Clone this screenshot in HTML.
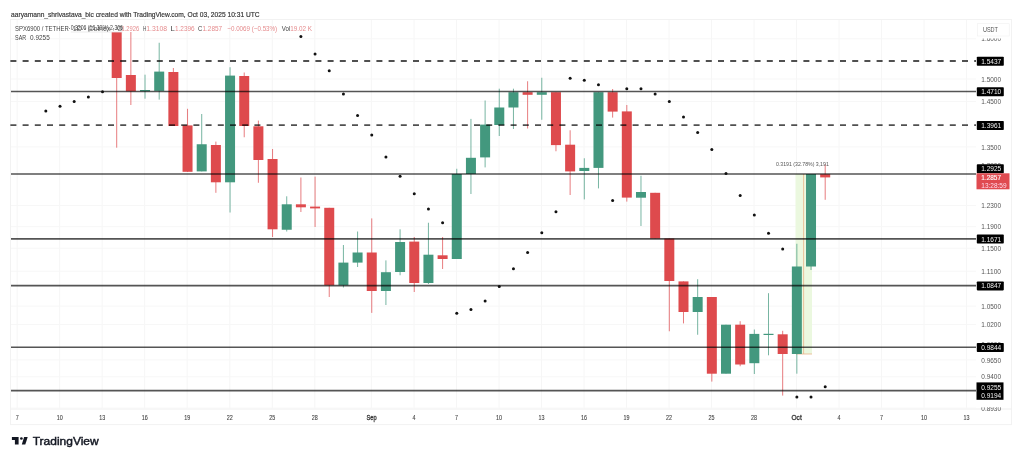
<!DOCTYPE html><html><head><meta charset="utf-8"><style>html,body{margin:0;padding:0;background:#fff;width:1024px;height:458px;overflow:hidden}svg{display:block;filter:blur(0.5px)}</style></head><body><svg width="1024" height="458" viewBox="0 0 1024 458">
<rect width="1024" height="458" fill="#ffffff"/>
<rect x="10.5" y="19.5" width="1001.0" height="405.1" fill="none" stroke="#f2f2f2" stroke-width="1"/>
<line x1="11" y1="409" x2="1011.5" y2="409" stroke="#efefef" stroke-width="1"/>
<line x1="17.2" y1="20" x2="17.2" y2="409" stroke="#f6f6f6" stroke-width="1"/>
<line x1="59.7" y1="20" x2="59.7" y2="409" stroke="#f6f6f6" stroke-width="1"/>
<line x1="102.2" y1="20" x2="102.2" y2="409" stroke="#f6f6f6" stroke-width="1"/>
<line x1="144.7" y1="20" x2="144.7" y2="409" stroke="#f6f6f6" stroke-width="1"/>
<line x1="187.2" y1="20" x2="187.2" y2="409" stroke="#f6f6f6" stroke-width="1"/>
<line x1="229.8" y1="20" x2="229.8" y2="409" stroke="#f6f6f6" stroke-width="1"/>
<line x1="272.3" y1="20" x2="272.3" y2="409" stroke="#f6f6f6" stroke-width="1"/>
<line x1="314.8" y1="20" x2="314.8" y2="409" stroke="#f6f6f6" stroke-width="1"/>
<line x1="371.4" y1="20" x2="371.4" y2="409" stroke="#f6f6f6" stroke-width="1"/>
<line x1="414.0" y1="20" x2="414.0" y2="409" stroke="#f6f6f6" stroke-width="1"/>
<line x1="456.5" y1="20" x2="456.5" y2="409" stroke="#f6f6f6" stroke-width="1"/>
<line x1="499.0" y1="20" x2="499.0" y2="409" stroke="#f6f6f6" stroke-width="1"/>
<line x1="541.5" y1="20" x2="541.5" y2="409" stroke="#f6f6f6" stroke-width="1"/>
<line x1="584.0" y1="20" x2="584.0" y2="409" stroke="#f6f6f6" stroke-width="1"/>
<line x1="626.5" y1="20" x2="626.5" y2="409" stroke="#f6f6f6" stroke-width="1"/>
<line x1="669.0" y1="20" x2="669.0" y2="409" stroke="#f6f6f6" stroke-width="1"/>
<line x1="711.5" y1="20" x2="711.5" y2="409" stroke="#f6f6f6" stroke-width="1"/>
<line x1="754.0" y1="20" x2="754.0" y2="409" stroke="#f6f6f6" stroke-width="1"/>
<line x1="796.6" y1="20" x2="796.6" y2="409" stroke="#f6f6f6" stroke-width="1"/>
<line x1="839.1" y1="20" x2="839.1" y2="409" stroke="#f6f6f6" stroke-width="1"/>
<line x1="881.6" y1="20" x2="881.6" y2="409" stroke="#f6f6f6" stroke-width="1"/>
<line x1="924.1" y1="20" x2="924.1" y2="409" stroke="#f6f6f6" stroke-width="1"/>
<line x1="966.6" y1="20" x2="966.6" y2="409" stroke="#f6f6f6" stroke-width="1"/>
<line x1="11" y1="38.8" x2="976" y2="38.8" stroke="#f7f7f7" stroke-width="1"/>
<line x1="11" y1="79.0" x2="976" y2="79.0" stroke="#f7f7f7" stroke-width="1"/>
<line x1="11" y1="101.4" x2="976" y2="101.4" stroke="#f7f7f7" stroke-width="1"/>
<line x1="11" y1="146.9" x2="976" y2="146.9" stroke="#f7f7f7" stroke-width="1"/>
<line x1="11" y1="205.6" x2="976" y2="205.6" stroke="#f7f7f7" stroke-width="1"/>
<line x1="11" y1="226.7" x2="976" y2="226.7" stroke="#f7f7f7" stroke-width="1"/>
<line x1="11" y1="248.2" x2="976" y2="248.2" stroke="#f7f7f7" stroke-width="1"/>
<line x1="11" y1="271.2" x2="976" y2="271.2" stroke="#f7f7f7" stroke-width="1"/>
<line x1="11" y1="306.1" x2="976" y2="306.1" stroke="#f7f7f7" stroke-width="1"/>
<line x1="11" y1="324.4" x2="976" y2="324.4" stroke="#f7f7f7" stroke-width="1"/>
<line x1="11" y1="359.9" x2="976" y2="359.9" stroke="#f7f7f7" stroke-width="1"/>
<line x1="11" y1="376.8" x2="976" y2="376.8" stroke="#f7f7f7" stroke-width="1"/>
<line x1="11" y1="408.1" x2="976" y2="408.1" stroke="#f7f7f7" stroke-width="1"/>
<rect x="795.5" y="174" width="16.5" height="180" fill="#ebf8df"/>
<line x1="803.6" y1="174" x2="803.6" y2="354" stroke="#e8b48a" stroke-width="0.8"/>
<line x1="796" y1="354" x2="812" y2="354" stroke="#e8b48a" stroke-width="0.8"/>
<line x1="116.69" y1="32" x2="116.69" y2="147.7" stroke="#de4a4d" stroke-width="1" stroke-opacity="0.72"/>
<rect x="111.69" y="32" width="10.0" height="46.00" fill="#de4a4d"/>
<line x1="130.86" y1="32" x2="130.86" y2="105" stroke="#de4a4d" stroke-width="1" stroke-opacity="0.72"/>
<rect x="125.86" y="75" width="10.0" height="16.30" fill="#de4a4d"/>
<line x1="145.03" y1="74.7" x2="145.03" y2="98.7" stroke="#43987e" stroke-width="1" stroke-opacity="0.72"/>
<rect x="140.03" y="90" width="10.0" height="1.20" fill="#43987e"/>
<line x1="159.20" y1="42.75" x2="159.20" y2="99.6" stroke="#43987e" stroke-width="1" stroke-opacity="0.72"/>
<rect x="154.20" y="71.6" width="10.0" height="19.30" fill="#43987e"/>
<line x1="173.37" y1="68" x2="173.37" y2="126" stroke="#de4a4d" stroke-width="1" stroke-opacity="0.72"/>
<rect x="168.37" y="72" width="10.0" height="54.00" fill="#de4a4d"/>
<line x1="187.54" y1="108.8" x2="187.54" y2="172" stroke="#de4a4d" stroke-width="1" stroke-opacity="0.72"/>
<rect x="182.54" y="125.4" width="10.0" height="46.40" fill="#de4a4d"/>
<line x1="201.71" y1="114" x2="201.71" y2="171.4" stroke="#43987e" stroke-width="1" stroke-opacity="0.72"/>
<rect x="196.71" y="144.25" width="10.0" height="27.15" fill="#43987e"/>
<line x1="215.88" y1="141.6" x2="215.88" y2="192.8" stroke="#de4a4d" stroke-width="1" stroke-opacity="0.72"/>
<rect x="210.88" y="145" width="10.0" height="37.30" fill="#de4a4d"/>
<line x1="230.05" y1="67.25" x2="230.05" y2="212.5" stroke="#43987e" stroke-width="1" stroke-opacity="0.72"/>
<rect x="225.05" y="75.6" width="10.0" height="106.70" fill="#43987e"/>
<line x1="244.22" y1="72.5" x2="244.22" y2="137.25" stroke="#de4a4d" stroke-width="1" stroke-opacity="0.72"/>
<rect x="239.22" y="76" width="10.0" height="50.00" fill="#de4a4d"/>
<line x1="258.39" y1="120.6" x2="258.39" y2="182.75" stroke="#de4a4d" stroke-width="1" stroke-opacity="0.72"/>
<rect x="253.39" y="126.3" width="10.0" height="33.70" fill="#de4a4d"/>
<line x1="272.56" y1="149" x2="272.56" y2="237" stroke="#de4a4d" stroke-width="1" stroke-opacity="0.72"/>
<rect x="267.56" y="159" width="10.0" height="70.30" fill="#de4a4d"/>
<line x1="286.73" y1="196.3" x2="286.73" y2="231.5" stroke="#43987e" stroke-width="1" stroke-opacity="0.72"/>
<rect x="281.73" y="204.3" width="10.0" height="25.45" fill="#43987e"/>
<line x1="300.90" y1="177.5" x2="300.90" y2="212" stroke="#de4a4d" stroke-width="1" stroke-opacity="0.72"/>
<rect x="295.90" y="204.3" width="10.0" height="3.00" fill="#de4a4d"/>
<line x1="315.07" y1="176.6" x2="315.07" y2="227" stroke="#de4a4d" stroke-width="1" stroke-opacity="0.72"/>
<rect x="310.07" y="206.6" width="10.0" height="1.80" fill="#de4a4d"/>
<line x1="329.24" y1="207.8" x2="329.24" y2="297" stroke="#de4a4d" stroke-width="1" stroke-opacity="0.72"/>
<rect x="324.24" y="207.8" width="10.0" height="77.50" fill="#de4a4d"/>
<line x1="343.41" y1="245" x2="343.41" y2="287.5" stroke="#43987e" stroke-width="1" stroke-opacity="0.72"/>
<rect x="338.41" y="262.6" width="10.0" height="22.70" fill="#43987e"/>
<line x1="357.58" y1="231.5" x2="357.58" y2="267" stroke="#43987e" stroke-width="1" stroke-opacity="0.72"/>
<rect x="352.58" y="252.5" width="10.0" height="10.10" fill="#43987e"/>
<line x1="371.75" y1="218.4" x2="371.75" y2="312.9" stroke="#de4a4d" stroke-width="1" stroke-opacity="0.72"/>
<rect x="366.75" y="252.5" width="10.0" height="38.50" fill="#de4a4d"/>
<line x1="385.92" y1="260.4" x2="385.92" y2="305" stroke="#43987e" stroke-width="1" stroke-opacity="0.72"/>
<rect x="380.92" y="272.2" width="10.0" height="18.80" fill="#43987e"/>
<line x1="400.09" y1="229.3" x2="400.09" y2="275.25" stroke="#43987e" stroke-width="1" stroke-opacity="0.72"/>
<rect x="395.09" y="242" width="10.0" height="30.00" fill="#43987e"/>
<line x1="414.26" y1="237" x2="414.26" y2="292" stroke="#de4a4d" stroke-width="1" stroke-opacity="0.72"/>
<rect x="409.26" y="241.6" width="10.0" height="41.40" fill="#de4a4d"/>
<line x1="428.43" y1="222.75" x2="428.43" y2="284" stroke="#43987e" stroke-width="1" stroke-opacity="0.72"/>
<rect x="423.43" y="254.7" width="10.0" height="28.30" fill="#43987e"/>
<line x1="442.60" y1="237" x2="442.60" y2="269" stroke="#de4a4d" stroke-width="1" stroke-opacity="0.72"/>
<rect x="437.60" y="255.3" width="10.0" height="3.70" fill="#de4a4d"/>
<line x1="456.77" y1="168.75" x2="456.77" y2="259" stroke="#43987e" stroke-width="1" stroke-opacity="0.72"/>
<rect x="451.77" y="174" width="10.0" height="85.00" fill="#43987e"/>
<line x1="470.94" y1="118.9" x2="470.94" y2="194" stroke="#43987e" stroke-width="1" stroke-opacity="0.72"/>
<rect x="465.94" y="157.8" width="10.0" height="16.20" fill="#43987e"/>
<line x1="485.11" y1="100.5" x2="485.11" y2="167.4" stroke="#43987e" stroke-width="1" stroke-opacity="0.72"/>
<rect x="480.11" y="124.6" width="10.0" height="32.80" fill="#43987e"/>
<line x1="499.28" y1="88.7" x2="499.28" y2="136" stroke="#43987e" stroke-width="1" stroke-opacity="0.72"/>
<rect x="494.28" y="107.5" width="10.0" height="17.50" fill="#43987e"/>
<line x1="513.45" y1="88.7" x2="513.45" y2="129" stroke="#43987e" stroke-width="1" stroke-opacity="0.72"/>
<rect x="508.45" y="92.2" width="10.0" height="15.30" fill="#43987e"/>
<line x1="527.62" y1="81.25" x2="527.62" y2="128.5" stroke="#de4a4d" stroke-width="1" stroke-opacity="0.72"/>
<rect x="522.62" y="92.2" width="10.0" height="2.60" fill="#de4a4d"/>
<line x1="541.79" y1="77.75" x2="541.79" y2="119.75" stroke="#43987e" stroke-width="1" stroke-opacity="0.72"/>
<rect x="536.79" y="92.2" width="10.0" height="2.60" fill="#43987e"/>
<line x1="555.96" y1="92.2" x2="555.96" y2="151.25" stroke="#de4a4d" stroke-width="1" stroke-opacity="0.72"/>
<rect x="550.96" y="92.2" width="10.0" height="52.90" fill="#de4a4d"/>
<line x1="570.13" y1="130.25" x2="570.13" y2="195" stroke="#de4a4d" stroke-width="1" stroke-opacity="0.72"/>
<rect x="565.13" y="144.7" width="10.0" height="26.70" fill="#de4a4d"/>
<line x1="584.30" y1="158.25" x2="584.30" y2="199.4" stroke="#43987e" stroke-width="1" stroke-opacity="0.72"/>
<rect x="579.30" y="167.9" width="10.0" height="3.10" fill="#43987e"/>
<line x1="598.47" y1="92.2" x2="598.47" y2="188.4" stroke="#43987e" stroke-width="1" stroke-opacity="0.72"/>
<rect x="593.47" y="92.2" width="10.0" height="75.70" fill="#43987e"/>
<line x1="612.64" y1="89" x2="612.64" y2="117.6" stroke="#de4a4d" stroke-width="1" stroke-opacity="0.72"/>
<rect x="607.64" y="92.2" width="10.0" height="19.40" fill="#de4a4d"/>
<line x1="626.81" y1="105" x2="626.81" y2="201.6" stroke="#de4a4d" stroke-width="1" stroke-opacity="0.72"/>
<rect x="621.81" y="111.4" width="10.0" height="86.20" fill="#de4a4d"/>
<line x1="640.98" y1="175.75" x2="640.98" y2="226" stroke="#43987e" stroke-width="1" stroke-opacity="0.72"/>
<rect x="635.98" y="192" width="10.0" height="5.70" fill="#43987e"/>
<line x1="655.15" y1="192.8" x2="655.15" y2="238.5" stroke="#de4a4d" stroke-width="1" stroke-opacity="0.72"/>
<rect x="650.15" y="192.8" width="10.0" height="45.70" fill="#de4a4d"/>
<line x1="669.32" y1="238.5" x2="669.32" y2="331.25" stroke="#de4a4d" stroke-width="1" stroke-opacity="0.72"/>
<rect x="664.32" y="238.5" width="10.0" height="42.50" fill="#de4a4d"/>
<line x1="683.49" y1="281.4" x2="683.49" y2="323.4" stroke="#de4a4d" stroke-width="1" stroke-opacity="0.72"/>
<rect x="678.49" y="281.4" width="10.0" height="30.60" fill="#de4a4d"/>
<line x1="697.66" y1="279.2" x2="697.66" y2="334.75" stroke="#43987e" stroke-width="1" stroke-opacity="0.72"/>
<rect x="692.66" y="297" width="10.0" height="15.00" fill="#43987e"/>
<line x1="711.83" y1="297" x2="711.83" y2="381.6" stroke="#de4a4d" stroke-width="1" stroke-opacity="0.72"/>
<rect x="706.83" y="297" width="10.0" height="76.70" fill="#de4a4d"/>
<line x1="726.00" y1="324.7" x2="726.00" y2="373.7" stroke="#43987e" stroke-width="1" stroke-opacity="0.72"/>
<rect x="721.00" y="324.7" width="10.0" height="49.00" fill="#43987e"/>
<line x1="740.17" y1="321.2" x2="740.17" y2="366.25" stroke="#de4a4d" stroke-width="1" stroke-opacity="0.72"/>
<rect x="735.17" y="324.7" width="10.0" height="39.80" fill="#de4a4d"/>
<line x1="754.34" y1="329.5" x2="754.34" y2="374" stroke="#43987e" stroke-width="1" stroke-opacity="0.72"/>
<rect x="749.34" y="333.9" width="10.0" height="29.30" fill="#43987e"/>
<line x1="768.51" y1="293.2" x2="768.51" y2="355.3" stroke="#43987e" stroke-width="1" stroke-opacity="0.72"/>
<rect x="763.51" y="333.8" width="10.0" height="1.20" fill="#43987e"/>
<line x1="782.68" y1="330.8" x2="782.68" y2="395.6" stroke="#de4a4d" stroke-width="1" stroke-opacity="0.72"/>
<rect x="777.68" y="334.3" width="10.0" height="19.70" fill="#de4a4d"/>
<line x1="796.85" y1="243.75" x2="796.85" y2="373.7" stroke="#43987e" stroke-width="1" stroke-opacity="0.72"/>
<rect x="791.85" y="266.5" width="10.0" height="87.50" fill="#43987e"/>
<line x1="811.02" y1="174" x2="811.02" y2="270" stroke="#43987e" stroke-width="1" stroke-opacity="0.72"/>
<rect x="806.02" y="174" width="10.0" height="92.50" fill="#43987e"/>
<line x1="825.19" y1="164.4" x2="825.19" y2="199.8" stroke="#de4a4d" stroke-width="1" stroke-opacity="0.72"/>
<rect x="820.19" y="174.2" width="10.0" height="3.20" fill="#de4a4d"/>
<line x1="10.4" y1="61.0" x2="976" y2="61.0" stroke="#505050" stroke-width="1.8" stroke-dasharray="6 6.2" style="mix-blend-mode:multiply"/>
<line x1="11" y1="91.5" x2="976" y2="91.5" stroke="#555555" stroke-width="1.65" style="mix-blend-mode:multiply"/>
<line x1="10.4" y1="125.2" x2="976" y2="125.2" stroke="#505050" stroke-width="1.8" stroke-dasharray="6 6.2" style="mix-blend-mode:multiply"/>
<line x1="11" y1="174.0" x2="976" y2="174.0" stroke="#555555" stroke-width="1.65" style="mix-blend-mode:multiply"/>
<line x1="11" y1="238.8" x2="976" y2="238.8" stroke="#555555" stroke-width="1.65" style="mix-blend-mode:multiply"/>
<line x1="11" y1="285.6" x2="976" y2="285.6" stroke="#555555" stroke-width="1.65" style="mix-blend-mode:multiply"/>
<line x1="11" y1="347.2" x2="976" y2="347.2" stroke="#555555" stroke-width="1.65" style="mix-blend-mode:multiply"/>
<line x1="11" y1="390.6" x2="976" y2="390.6" stroke="#555555" stroke-width="1.65" style="mix-blend-mode:multiply"/>
<circle cx="45.84" cy="111" r="1.5" fill="#111"/>
<circle cx="60.01" cy="106.2" r="1.5" fill="#111"/>
<circle cx="74.18" cy="101.4" r="1.5" fill="#111"/>
<circle cx="88.35" cy="97" r="1.5" fill="#111"/>
<circle cx="102.52" cy="91.75" r="1.5" fill="#111"/>
<circle cx="300.90" cy="36.6" r="1.5" fill="#111"/>
<circle cx="315.07" cy="54" r="1.5" fill="#111"/>
<circle cx="329.24" cy="70.75" r="1.5" fill="#111"/>
<circle cx="343.41" cy="94" r="1.5" fill="#111"/>
<circle cx="357.58" cy="115.4" r="1.5" fill="#111"/>
<circle cx="371.75" cy="135" r="1.5" fill="#111"/>
<circle cx="385.92" cy="157" r="1.5" fill="#111"/>
<circle cx="400.09" cy="176.2" r="1.5" fill="#111"/>
<circle cx="414.26" cy="193.7" r="1.5" fill="#111"/>
<circle cx="428.43" cy="209" r="1.5" fill="#111"/>
<circle cx="442.60" cy="222.75" r="1.5" fill="#111"/>
<circle cx="456.77" cy="313.3" r="1.5" fill="#111"/>
<circle cx="470.94" cy="309.4" r="1.5" fill="#111"/>
<circle cx="485.11" cy="301" r="1.5" fill="#111"/>
<circle cx="499.28" cy="286.6" r="1.5" fill="#111"/>
<circle cx="513.45" cy="268.7" r="1.5" fill="#111"/>
<circle cx="527.62" cy="252.5" r="1.5" fill="#111"/>
<circle cx="541.79" cy="232.8" r="1.5" fill="#111"/>
<circle cx="555.96" cy="211.7" r="1.5" fill="#111"/>
<circle cx="570.13" cy="78.2" r="1.5" fill="#111"/>
<circle cx="584.30" cy="80.2" r="1.5" fill="#111"/>
<circle cx="598.47" cy="84.75" r="1.5" fill="#111"/>
<circle cx="612.64" cy="200.5" r="1.5" fill="#111"/>
<circle cx="626.81" cy="88.7" r="1.5" fill="#111"/>
<circle cx="640.98" cy="88.7" r="1.5" fill="#111"/>
<circle cx="655.15" cy="94" r="1.5" fill="#111"/>
<circle cx="669.32" cy="101.4" r="1.5" fill="#111"/>
<circle cx="683.49" cy="117" r="1.5" fill="#111"/>
<circle cx="697.66" cy="132.4" r="1.5" fill="#111"/>
<circle cx="711.83" cy="149.5" r="1.5" fill="#111"/>
<circle cx="726.00" cy="173.6" r="1.5" fill="#111"/>
<circle cx="740.17" cy="195.4" r="1.5" fill="#111"/>
<circle cx="754.34" cy="215" r="1.5" fill="#111"/>
<circle cx="768.51" cy="233.25" r="1.5" fill="#111"/>
<circle cx="782.68" cy="249" r="1.5" fill="#111"/>
<circle cx="796.85" cy="396.9" r="1.5" fill="#111"/>
<circle cx="811.02" cy="396.9" r="1.5" fill="#111"/>
<circle cx="825.19" cy="386.8" r="1.5" fill="#111"/>
<g font-family="Liberation Sans, sans-serif">
<text x="11.1" y="16.8" font-size="7.6" fill="#333" stroke="#333" stroke-width="0.18" textLength="248.5" lengthAdjust="spacingAndGlyphs">aaryamann_shrivastava_bic created with TradingView.com, Oct 03, 2025 10:31 UTC</text>
<text x="15.0" y="30.9" font-size="7.2" fill="#444" textLength="53.7" lengthAdjust="spacingAndGlyphs">SPX6900 / TETHER</text>
<text x="121.5" y="30.9" font-size="7.2" fill="#e58a8c" textLength="17.7" lengthAdjust="spacingAndGlyphs">1.2926</text>
<text x="143.0" y="30.9" font-size="7.2" fill="#444" textLength="3.2" lengthAdjust="spacingAndGlyphs">H</text>
<text x="146.2" y="30.9" font-size="7.2" fill="#e58a8c" textLength="20.9" lengthAdjust="spacingAndGlyphs">1.3108</text>
<text x="170.5" y="30.9" font-size="7.2" fill="#444" textLength="4.3" lengthAdjust="spacingAndGlyphs">L</text>
<text x="175.0" y="30.9" font-size="7.2" fill="#e58a8c" textLength="19.6" lengthAdjust="spacingAndGlyphs">1.2396</text>
<text x="198.0" y="30.9" font-size="7.2" fill="#444" textLength="4.3" lengthAdjust="spacingAndGlyphs">C</text>
<text x="202.5" y="30.9" font-size="7.2" fill="#e58a8c" textLength="19.6" lengthAdjust="spacingAndGlyphs">1.2857</text>
<text x="227.3" y="30.9" font-size="7.2" fill="#e58a8c" textLength="49.9" lengthAdjust="spacingAndGlyphs">−0.0069 (−0.53%)</text>
<text x="281.8" y="30.9" font-size="7.2" fill="#444" textLength="8.5" lengthAdjust="spacingAndGlyphs">Vol</text>
<text x="290.3" y="30.9" font-size="7.2" fill="#e58a8c" textLength="21.7" lengthAdjust="spacingAndGlyphs">19.02 K</text>
<line x1="70.8" y1="32" x2="122.7" y2="32" stroke="#e6e6e6" stroke-width="0.8"/>
<text x="68.5" y="30.6" font-size="7.2" fill="#555" textLength="54" lengthAdjust="spacingAndGlyphs">· 1D · Coinex · O</text>
<text x="70.7" y="29.8" font-size="6.4" fill="#444" textLength="52.3" lengthAdjust="spacingAndGlyphs">0.3206 (16.30%) 2,306</text>
<text x="15.1" y="40" font-size="7.2" fill="#444" textLength="11.1" lengthAdjust="spacingAndGlyphs">SAR</text>
<text x="30.1" y="40" font-size="7.2" fill="#444" textLength="19.6" lengthAdjust="spacingAndGlyphs">0.9255</text>
<text x="776" y="165.8" font-size="5.2" fill="#555">0.3191 (32.78%) 3,191</text>
<rect x="977.5" y="23.7" width="31.7" height="12.3" fill="#fff" stroke="#f0f0f0" stroke-width="0.6"/>
<text x="982.9" y="32.4" font-size="7" fill="#555" textLength="15.1" lengthAdjust="spacingAndGlyphs">USDT</text>
<defs><clipPath id="c16"><rect x="970" y="38.6" width="40" height="6"/></clipPath><clipPath id="c89"><rect x="970" y="407.2" width="40" height="6"/></clipPath></defs>
<text x="981.3" y="41.2" font-size="7.2" fill="#555" textLength="19.7" lengthAdjust="spacingAndGlyphs" clip-path="url(#c16)">1.6000</text>
<text x="981.3" y="81.6" font-size="7.2" fill="#555" textLength="19.7" lengthAdjust="spacingAndGlyphs">1.5000</text>
<text x="981.3" y="104.0" font-size="7.2" fill="#555" textLength="19.7" lengthAdjust="spacingAndGlyphs">1.4500</text>
<text x="981.3" y="149.5" font-size="7.2" fill="#555" textLength="19.7" lengthAdjust="spacingAndGlyphs">1.3500</text>
<text x="981.3" y="208.2" font-size="7.2" fill="#555" textLength="19.7" lengthAdjust="spacingAndGlyphs">1.2300</text>
<text x="981.3" y="229.3" font-size="7.2" fill="#555" textLength="19.7" lengthAdjust="spacingAndGlyphs">1.1900</text>
<text x="981.3" y="250.8" font-size="7.2" fill="#555" textLength="19.7" lengthAdjust="spacingAndGlyphs">1.1500</text>
<text x="981.3" y="273.8" font-size="7.2" fill="#555" textLength="19.7" lengthAdjust="spacingAndGlyphs">1.1100</text>
<text x="981.3" y="308.7" font-size="7.2" fill="#555" textLength="19.7" lengthAdjust="spacingAndGlyphs">1.0500</text>
<text x="981.3" y="327.0" font-size="7.2" fill="#555" textLength="19.7" lengthAdjust="spacingAndGlyphs">1.0200</text>
<text x="981.3" y="362.5" font-size="7.2" fill="#555" textLength="19.7" lengthAdjust="spacingAndGlyphs">0.9650</text>
<text x="981.3" y="379.4" font-size="7.2" fill="#555" textLength="19.7" lengthAdjust="spacingAndGlyphs">0.9400</text>
<text x="981.3" y="410.9" font-size="7.2" fill="#555" textLength="19.7" lengthAdjust="spacingAndGlyphs" clip-path="url(#c89)">0.8930</text>
<text x="981.3" y="168" font-size="7.2" fill="#555" textLength="19.7" lengthAdjust="spacingAndGlyphs">1.2900</text>
<text x="981.3" y="347.2" font-size="7.2" fill="#555" textLength="19.7" lengthAdjust="spacingAndGlyphs">0.9900</text>
<rect x="976.8" y="56.8" width="27" height="9" rx="0.8" fill="#000"/>
<text x="981.2" y="63.8" font-size="7.3" fill="#f0f0f0" textLength="20" lengthAdjust="spacingAndGlyphs">1.5437</text>
<rect x="976.8" y="87.3" width="27" height="9" rx="0.8" fill="#000"/>
<text x="981.2" y="94.3" font-size="7.3" fill="#f0f0f0" textLength="20" lengthAdjust="spacingAndGlyphs">1.4710</text>
<rect x="976.8" y="121.0" width="27" height="9" rx="0.8" fill="#000"/>
<text x="981.2" y="128.0" font-size="7.3" fill="#f0f0f0" textLength="20" lengthAdjust="spacingAndGlyphs">1.3961</text>
<rect x="976.8" y="164.2" width="27" height="9" rx="0.8" fill="#000"/>
<text x="981.2" y="171.2" font-size="7.3" fill="#f0f0f0" textLength="20" lengthAdjust="spacingAndGlyphs">1.2925</text>
<rect x="976.8" y="234.6" width="27" height="9" rx="0.8" fill="#000"/>
<text x="981.2" y="241.6" font-size="7.3" fill="#f0f0f0" textLength="20" lengthAdjust="spacingAndGlyphs">1.1671</text>
<rect x="976.8" y="281.4" width="27" height="9" rx="0.8" fill="#000"/>
<text x="981.2" y="288.4" font-size="7.3" fill="#f0f0f0" textLength="20" lengthAdjust="spacingAndGlyphs">1.0847</text>
<rect x="976.8" y="343.0" width="27" height="9" rx="0.8" fill="#000"/>
<text x="981.2" y="350.0" font-size="7.3" fill="#f0f0f0" textLength="20" lengthAdjust="spacingAndGlyphs">0.9844</text>
<rect x="976.5" y="382.4" width="27" height="17.4" fill="#000"/>
<text x="981.2" y="389.6" font-size="7.3" fill="#f0f0f0" textLength="20" lengthAdjust="spacingAndGlyphs">0.9255</text>
<text x="981.2" y="398.2" font-size="7.3" fill="#f0f0f0" textLength="20" lengthAdjust="spacingAndGlyphs">0.9194</text>
<rect x="976.5" y="173.3" width="33" height="16" fill="#e04a50"/>
<text x="981.3" y="180.2" font-size="7.2" fill="#fff" stroke="#fff" stroke-width="0.12" textLength="19.7" lengthAdjust="spacingAndGlyphs">1.2857</text>
<text x="981.3" y="188" font-size="7.2" fill="#fde" textLength="25.3" lengthAdjust="spacingAndGlyphs">13:28:59</text>
<text x="15.7" y="420.2" font-size="6.8" fill="#444" stroke="#444" stroke-width="0.1" textLength="3.0" lengthAdjust="spacingAndGlyphs">7</text>
<text x="56.7" y="420.2" font-size="6.8" fill="#444" stroke="#444" stroke-width="0.1" textLength="6.0" lengthAdjust="spacingAndGlyphs">10</text>
<text x="99.2" y="420.2" font-size="6.8" fill="#444" stroke="#444" stroke-width="0.1" textLength="6.0" lengthAdjust="spacingAndGlyphs">13</text>
<text x="141.7" y="420.2" font-size="6.8" fill="#444" stroke="#444" stroke-width="0.1" textLength="6.0" lengthAdjust="spacingAndGlyphs">16</text>
<text x="184.2" y="420.2" font-size="6.8" fill="#444" stroke="#444" stroke-width="0.1" textLength="6.0" lengthAdjust="spacingAndGlyphs">19</text>
<text x="226.8" y="420.2" font-size="6.8" fill="#444" stroke="#444" stroke-width="0.1" textLength="6.0" lengthAdjust="spacingAndGlyphs">22</text>
<text x="269.3" y="420.2" font-size="6.8" fill="#444" stroke="#444" stroke-width="0.1" textLength="6.0" lengthAdjust="spacingAndGlyphs">25</text>
<text x="311.8" y="420.2" font-size="6.8" fill="#444" stroke="#444" stroke-width="0.1" textLength="6.0" lengthAdjust="spacingAndGlyphs">28</text>
<text x="366.4" y="420.2" font-size="7" fill="#333" stroke="#333" stroke-width="0.3" textLength="10.2" lengthAdjust="spacingAndGlyphs">Sep</text>
<text x="412.5" y="420.2" font-size="6.8" fill="#444" stroke="#444" stroke-width="0.1" textLength="3.0" lengthAdjust="spacingAndGlyphs">4</text>
<text x="455.0" y="420.2" font-size="6.8" fill="#444" stroke="#444" stroke-width="0.1" textLength="3.0" lengthAdjust="spacingAndGlyphs">7</text>
<text x="496.0" y="420.2" font-size="6.8" fill="#444" stroke="#444" stroke-width="0.1" textLength="6.0" lengthAdjust="spacingAndGlyphs">10</text>
<text x="538.5" y="420.2" font-size="6.8" fill="#444" stroke="#444" stroke-width="0.1" textLength="6.0" lengthAdjust="spacingAndGlyphs">13</text>
<text x="581.0" y="420.2" font-size="6.8" fill="#444" stroke="#444" stroke-width="0.1" textLength="6.0" lengthAdjust="spacingAndGlyphs">16</text>
<text x="623.5" y="420.2" font-size="6.8" fill="#444" stroke="#444" stroke-width="0.1" textLength="6.0" lengthAdjust="spacingAndGlyphs">19</text>
<text x="666.0" y="420.2" font-size="6.8" fill="#444" stroke="#444" stroke-width="0.1" textLength="6.0" lengthAdjust="spacingAndGlyphs">22</text>
<text x="708.5" y="420.2" font-size="6.8" fill="#444" stroke="#444" stroke-width="0.1" textLength="6.0" lengthAdjust="spacingAndGlyphs">25</text>
<text x="751.0" y="420.2" font-size="6.8" fill="#444" stroke="#444" stroke-width="0.1" textLength="6.0" lengthAdjust="spacingAndGlyphs">28</text>
<text x="791.5" y="420.2" font-size="7" fill="#333" stroke="#333" stroke-width="0.3" textLength="10.2" lengthAdjust="spacingAndGlyphs">Oct</text>
<text x="837.6" y="420.2" font-size="6.8" fill="#444" stroke="#444" stroke-width="0.1" textLength="3.0" lengthAdjust="spacingAndGlyphs">4</text>
<text x="880.1" y="420.2" font-size="6.8" fill="#444" stroke="#444" stroke-width="0.1" textLength="3.0" lengthAdjust="spacingAndGlyphs">7</text>
<text x="921.1" y="420.2" font-size="6.8" fill="#444" stroke="#444" stroke-width="0.1" textLength="6.0" lengthAdjust="spacingAndGlyphs">10</text>
<text x="963.6" y="420.2" font-size="6.8" fill="#444" stroke="#444" stroke-width="0.1" textLength="6.0" lengthAdjust="spacingAndGlyphs">13</text>
</g>
<g fill="#131722">
<path d="M11.9 437.1 H18.6 V444.6 H14.9 V440 H11.9 Z"/>
<circle cx="21.4" cy="438.5" r="1.35"/>
<path d="M24.1 437.1 H27.7 L25.3 444.6 H21.8 Z"/>
</g>
<text x="32.7" y="444.6" font-family="Liberation Sans, sans-serif" font-size="10.4" fill="#131722" stroke="#131722" stroke-width="0.4" textLength="66" lengthAdjust="spacingAndGlyphs">TradingView</text>
</svg></body></html>
